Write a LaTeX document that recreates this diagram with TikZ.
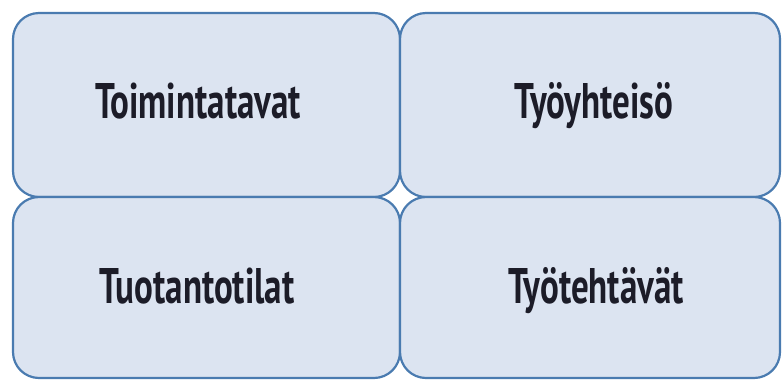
\documentclass[tikz,border=0pt]{standalone}
\usepackage{fontspec}
\usepackage{graphicx}
\newfontfamily\labelfont{PT Sans}
\definecolor{panelfill}{HTML}{DCE4F1}
\definecolor{panelline}{HTML}{4A7BB0}
\definecolor{labelink}{HTML}{1C1C28}
\newcommand{\panellabel}[1]{\scalebox{0.70}[1]{#1}}
\begin{document}
\begin{tikzpicture}[x=1pt,y=-1pt,
  panel/.style={draw=panelline, line width=2.2pt, fill=panelfill, rounded corners=26pt},
  paneltext/.style={font=\labelfont\bfseries\fontsize{50}{60}\selectfont, text=labelink, inner sep=0pt}]
  \useasboundingbox (0,0) rectangle (784,381);
  % four panels meeting at a common corner
  \path[panel] (13,13) rectangle (400,197);
  \path[panel] (400,13) rectangle (780,197);
  \path[panel] (13,197) rectangle (400,378);
  \path[panel] (400,197) rectangle (780,378);
  % labels
  \node[paneltext, anchor=base] (tl) at (198,118) {\panellabel{Toimintatavat}};
  \node[paneltext, anchor=base] (tr) at (594,118) {\panellabel{Työyhteisö}};
  \node[paneltext, anchor=base] (bl) at (197,303) {\panellabel{Tuotantotilat}};
  \node[paneltext, anchor=base] (br) at (596,303) {\panellabel{Työtehtävät}};
\end{tikzpicture}
\end{document}
